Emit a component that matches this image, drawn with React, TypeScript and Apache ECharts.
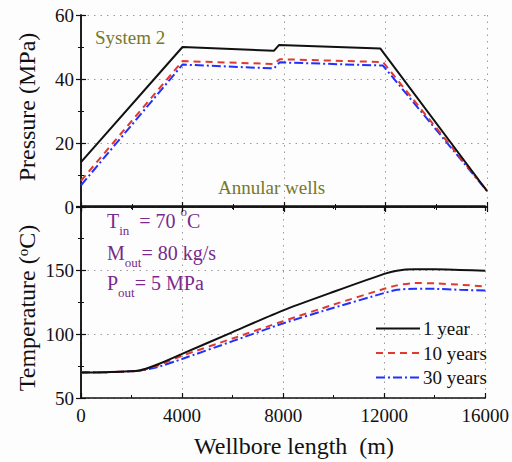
import React, { useEffect, useRef } from "react";
import * as echarts from "echarts";

const FONT = "Liberation Serif, Times New Roman, serif";

// Pressure (top panel)
const pLen1 = [0, 4000, 7600, 7800, 11800, 16000];
const pVal1 = [14, 50, 48.8, 50.6, 49.5, 5];
const pLen10 = [0, 4000, 7600, 7830, 11900, 16000];
const pVal10 = [8.2, 45.6, 44.7, 46.2, 45.3, 5.1];
const pLen30 = [0, 4000, 7600, 7830, 11900, 16000];
const pVal30 = [6.8, 44.5, 43.3, 45.2, 44.2, 5];

// Temperature (bottom panel)
const tLen = [0, 1000, 2300, 3000, 4000, 6000, 8000, 10000, 12000, 12500, 13200, 14000, 15000, 16000];
const tVal1 = [70, 70.2, 71.5, 76, 84.5, 101.5, 118.5, 133, 147, 149.5, 150.5, 150.5, 150, 149.5];
const tVal10 = [70, 70.2, 71.3, 75, 83, 96.5, 110, 123, 135.3, 138, 139.8, 139.6, 138.5, 137.2];
const tVal30 = [70, 70.2, 71.2, 74, 80.5, 94.4, 108.3, 120.5, 132, 134.5, 135.4, 135.3, 134.5, 133.9];

const seriesNames = ["1 year", "10 years", "30 years"];

const zip = (a: number[], b: number[]) => a.map((v, i) => [v, b[i]]);

const styles = [
  { color: "#111111", width: 2, type: "solid" as any },
  { color: "#e0392e", width: 2, type: [7, 5] as any },
  { color: "#2030ff", width: 2, type: [9, 3, 2, 3] as any },
];

export default function App() {
  const ref = useRef<HTMLDivElement>(null);
  useEffect(() => {
    if (!ref.current) return;
    const chart = echarts.init(ref.current, null, { renderer: "svg" });
    const axisLine = { show: true, lineStyle: { color: "#111", width: 1.5 } };
    const tick = { show: true, inside: true, length: 5, lineStyle: { color: "#111", width: 1.2 } };
    const minor = { show: true, splitNumber: 2, length: 3, lineStyle: { color: "#111", width: 1 } };
    const split = { show: true, lineStyle: { color: "#9a9a9a", width: 1, type: [1.5, 5] as any } };
    const serifRich = { s: { fontFamily: FONT, fontSize: 19, color: "#111", lineHeight: 19 } };
    const labelStyle = { fontFamily: FONT, fontSize: 19, color: "#111", rich: serifRich };
    const xBase = (gridIndex: number, position: string, labels: boolean, grid: boolean) => ({
      type: "value",
      gridIndex,
      position,
      min: 0,
      max: 16000,
      interval: 4000,
      axisLine,
      axisTick: tick,
      minorTick: minor,
      splitLine: grid ? split : { show: false },
      axisLabel: labels
        ? { show: true, ...labelStyle, margin: 8, formatter: (v: number) => `{s|${v}}` }
        : { show: false },
    });
    const pressureSeries = [zip(pLen1, pVal1), zip(pLen10, pVal10), zip(pLen30, pVal30)];
    const tempSeries = [zip(tLen, tVal1), zip(tLen, tVal10), zip(tLen, tVal30)];
    const series: any[] = [];
    pressureSeries.forEach((d, i) => {
      series.push({
        type: "line",
        name: seriesNames[i],
        xAxisIndex: 0,
        yAxisIndex: 0,
        data: d,
        symbol: "none",
        showSymbol: false,
        lineStyle: styles[i],
        itemStyle: { color: styles[i].color },
        z: 10 - i,
      });
    });
    tempSeries.forEach((d, i) => {
      series.push({
        type: "line",
        name: seriesNames[i],
        xAxisIndex: 2,
        yAxisIndex: 2,
        data: d,
        symbol: "none",
        showSymbol: false,
        smooth: 0.2,
        lineStyle: styles[i],
        itemStyle: { color: styles[i].color },
        z: 10 - i,
      });
    });
    const purple = "#7a2a8c";
    chart.setOption({
      animation: false,
      backgroundColor: "#fdfdfd",
      textStyle: { fontFamily: FONT },
      grid: [
        { left: 81, top: 15, width: 406, height: 192 },
        { left: 81, top: 206, width: 406, height: 192 },
      ],
      xAxis: [
        xBase(0, "bottom", false, true),
        xBase(0, "top", false, false),
        xBase(1, "bottom", true, true),
        xBase(1, "top", false, false),
      ],
      yAxis: [
        {
          type: "value",
          gridIndex: 0,
          position: "left",
          min: 0,
          max: 60,
          interval: 20,
          axisLine,
          axisTick: tick,
          minorTick: minor,
          splitLine: split,
          axisLabel: { ...labelStyle, margin: 7, formatter: (v: number) => `{s|${v}}` },
        },
        {
          type: "value",
          gridIndex: 0,
          position: "right",
          min: 0,
          max: 60,
          interval: 20,
          axisLine,
          axisTick: tick,
          minorTick: minor,
          splitLine: { show: false },
          axisLabel: { show: false },
        },
        {
          type: "value",
          gridIndex: 1,
          position: "left",
          min: 50,
          max: 200,
          interval: 50,
          axisLine,
          axisTick: tick,
          minorTick: minor,
          splitLine: split,
          axisLabel: {
            ...labelStyle,
            margin: 7,
            formatter: (v: number) => (v === 200 ? "" : `{s|${v}}`),
          },
        },
        {
          type: "value",
          gridIndex: 1,
          position: "right",
          min: 50,
          max: 200,
          interval: 50,
          axisLine,
          axisTick: tick,
          minorTick: minor,
          splitLine: { show: false },
          axisLabel: { show: false },
        },
      ],
      legend: {
        orient: "vertical",
        left: 370,
        top: 314,
        itemWidth: 44,
        itemHeight: 14,
        itemGap: 5.5,
        data: seriesNames,
        itemStyle: { opacity: 0 },
        formatter: (name: string) => `{s|${name}}`,
        textStyle: { ...labelStyle, lineHeight: 19, padding: [0, 0, 0, -2] },
      },
      graphic: [
        {
          type: "text",
          x: 27,
          y: 107,
          rotation: Math.PI / 2,
          style: {
            text: "Pressure (MPa)",
            fontFamily: FONT,
            fontSize: 24,
            fill: "#111",
            align: "center",
            verticalAlign: "middle",
          },
        },
        {
          type: "text",
          x: 27,
          y: 308,
          rotation: Math.PI / 2,
          style: {
            text: "{a|Temperature (}{s|o}{a|C)}",
            align: "center",
            verticalAlign: "middle",
            rich: {
              a: { fontFamily: FONT, fontSize: 24, fill: "#111", lineHeight: 24, verticalAlign: "middle" },
              s: { fontFamily: FONT, fontSize: 15, fill: "#111", lineHeight: 15, verticalAlign: "top" },
            },
          },
        },
        {
          type: "text",
          x: 294,
          y: 446,
          style: {
            text: "Wellbore length  (m)",
            fontFamily: FONT,
            fontSize: 24,
            fill: "#111",
            align: "center",
            verticalAlign: "middle",
          },
        },
        {
          type: "text",
          x: 95,
          y: 37,
          style: {
            text: "System 2",
            fontFamily: FONT,
            fontSize: 19,
            fill: "#77772a",
            align: "left",
            verticalAlign: "middle",
          },
        },
        {
          type: "text",
          x: 218,
          y: 187,
          style: {
            text: "Annular wells",
            fontFamily: FONT,
            fontSize: 19,
            fill: "#77772a",
            align: "left",
            verticalAlign: "middle",
          },
        },
        ...[
          { y: 221, main: "T", sub: "in", pad: "  ", rest: "= 70 ", sup: "o", tail: "C" },
          { y: 253, main: "M", sub: "out", pad: "", rest: "= 80 kg/s", sup: "", tail: "" },
          { y: 283, main: "P", sub: "out", pad: "", rest: "= 5 MPa", sup: "", tail: "" },
        ].map((t) => ({
          type: "text",
          x: 107,
          y: t.y,
          style: {
            text:
              `{m|${t.main}}{b|${t.sub}}{m|${t.pad}${t.rest}}` +
              (t.sup ? `{t|${t.sup}}{m|${t.tail}}` : ""),
            align: "left",
            verticalAlign: "middle",
            rich: {
              m: { fontFamily: FONT, fontSize: 20, fill: purple, lineHeight: 32, verticalAlign: "middle" },
              b: { fontFamily: FONT, fontSize: 13, fill: purple, lineHeight: 13, verticalAlign: "bottom" },
              t: { fontFamily: FONT, fontSize: 13, fill: purple, lineHeight: 13, verticalAlign: "top" },
            },
          },
        })),
      ],
      series,
    });
    return () => chart.dispose();
  }, []);
  return (
    <div
      ref={ref}
      style={{ position: "fixed", left: 0, top: 0, width: 512, height: 462 }}
    />
  );
}
